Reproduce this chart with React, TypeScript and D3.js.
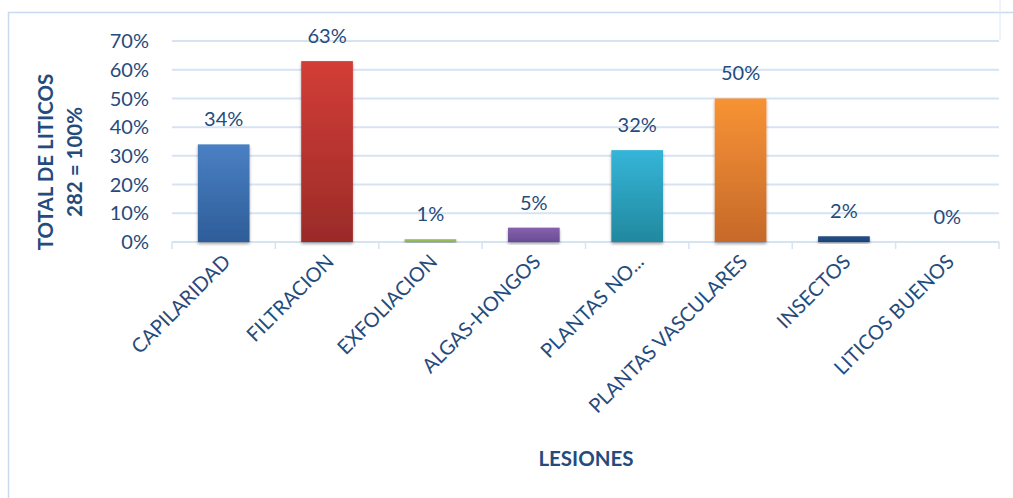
import React from "react";
import * as d3 from "d3";

// Lesiones registradas sobre el total de líticos (282 = 100%)
const categories = [
  "CAPILARIDAD",
  "FILTRACION",
  "EXFOLIACION",
  "ALGAS-HONGOS",
  "PLANTAS NO...",
  "PLANTAS VASCULARES",
  "INSECTOS",
  "LITICOS BUENOS",
];
const values = [0.34, 0.63, 0.01, 0.05, 0.32, 0.5, 0.02, 0.0];
const yTicks = [0, 0.1, 0.2, 0.3, 0.4, 0.5, 0.6, 0.7];
const barTop = ["#4a80c4", "#d33d37", "#a2c75c", "#8561ad", "#35b5d8", "#f79334", "#244f86", "#4a80c4"];
const barBottom = ["#2e5d99", "#9a2b28", "#8cb04c", "#6b4c93", "#22889f", "#c6692a", "#1d4477", "#2e5d99"];

const W = 1013;
const H = 498;
const plot = { left: 172, right: 999, top: 41, bottom: 242 };
const textColor = "#254b7c";
const font = "Lato, 'Open Sans', sans-serif";

export default function App() {
  const x = d3
    .scaleBand<string>()
    .domain(categories)
    .range([plot.left, plot.right])
    .paddingInner(0.5)
    .paddingOuter(0.25);
  const xb = d3.scaleBand<string>().domain(categories).range([plot.left, plot.right]);
  const y = d3.scaleLinear().domain([0, 0.7]).range([plot.bottom, plot.top]);
  const fmt = d3.format(".0%");
  const edges = d3.range(categories.length + 1).map((i) => plot.left + i * xb.step());

  return (
    <svg
      width={W}
      height={H}
      style={{ position: "absolute", left: 0, top: 0, background: "#fff" }}
    >
      <defs>
        {categories.map((c, i) => (
          <linearGradient key={c} id={`g${i}`} x1="0" y1="0" x2="0" y2="1">
            <stop offset="0%" stopColor={barTop[i]} />
            <stop offset="100%" stopColor={barBottom[i]} />
          </linearGradient>
        ))}
        <filter id="shadow" x="-20%" y="-20%" width="140%" height="140%">
          <feDropShadow dx="0" dy="2" stdDeviation="1.5" floodColor="#000" floodOpacity="0.35" />
        </filter>
      </defs>

      {/* chart frame */}
      <rect x={8.5} y={12.5} width={1100} height={600} fill="#fff" stroke="#c9daef" strokeWidth={1.5} />
      <line x1={1000} x2={1000} y1={0} y2={40} stroke="#dde8f5" strokeWidth={1} />

      {/* horizontal gridlines */}
      {yTicks.map((t) => (
        <line
          key={t}
          x1={plot.left}
          x2={plot.right}
          y1={y(t)}
          y2={y(t)}
          stroke="#d6e3f3"
          strokeWidth={2}
        />
      ))}

      {/* category tick marks */}
      {edges.map((e, i) => (
        <line key={i} x1={e} x2={e} y1={plot.bottom} y2={plot.bottom + 7} stroke="#d6e3f3" strokeWidth={1.5} />
      ))}

      {/* y tick labels */}
      {yTicks.map((t) => (
        <text
          key={t}
          x={149}
          y={y(t)}
          dy="0.36em"
          textAnchor="end"
          fontFamily={font}
          fontSize={20}
          fill={textColor}
        >
          {fmt(t)}
        </text>
      ))}

      {/* bars */}
      {categories.map((c, i) =>
        values[i] > 0 ? (
          <rect
            key={c}
            x={x(c)}
            y={y(values[i])}
            width={x.bandwidth()}
            height={y(0) - y(values[i])}
            fill={`url(#g${i})`}
            filter="url(#shadow)"
          />
        ) : null
      )}

      {/* value labels */}
      {categories.map((c, i) => (
        <text
          key={c}
          x={x(c)! + x.bandwidth() / 2}
          y={y(values[i]) - 18}
          textAnchor="middle"
          fontFamily={font}
          fontSize={20}
          fill={textColor}
        >
          {fmt(values[i])}
        </text>
      ))}

      {/* category labels */}
      {categories.map((c) => {
        const cx = xb(c)! + xb.bandwidth() / 2 + 8;
        const cy = plot.bottom + 21;
        return (
          <text
            key={c}
            transform={`translate(${cx},${cy}) rotate(-45)`}
            textAnchor="end"
            fontFamily={font}
            fontSize={20}
            fill={textColor}
          >
            {c}
          </text>
        );
      })}

      {/* axis titles */}
      <text
        transform="translate(53,162) rotate(-90)"
        textAnchor="middle"
        fontFamily={font}
        fontWeight="bold"
        fontSize={20.5}
        fill={textColor}
      >
        TOTAL DE LITICOS
      </text>
      <text
        transform="translate(82,162) rotate(-90)"
        textAnchor="middle"
        fontFamily={font}
        fontWeight="bold"
        fontSize={20.5}
        fill={textColor}
      >
        282 = 100%
      </text>
      <text
        x={586}
        y={466}
        textAnchor="middle"
        fontFamily={font}
        fontWeight="bold"
        fontSize={20.5}
        fill={textColor}
      >
        LESIONES
      </text>
    </svg>
  );
}
